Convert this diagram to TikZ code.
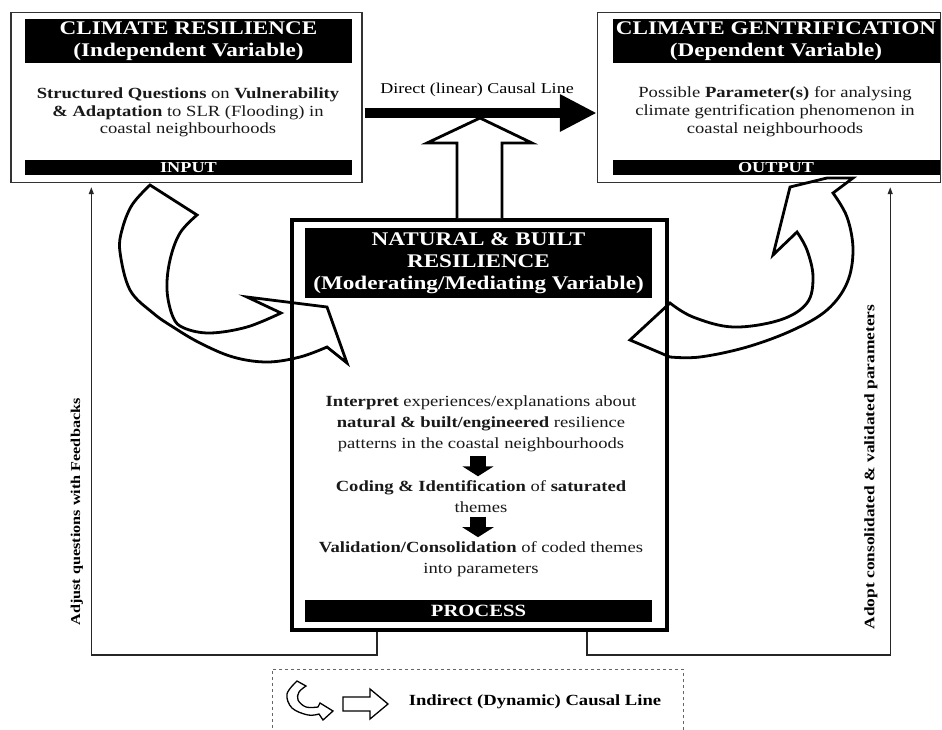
\documentclass[tikz,border=0pt]{standalone}
\usepackage{fontspec}
\setmainfont{Liberation Serif}[FakeStretch=1.2]
\usetikzlibrary{arrows.meta,calc}
\newcommand\titlefnt{\fontsize{19.3}{22}\selectfont\bfseries}
\newcommand\barfnt{\fontsize{15.2}{16}\selectfont\bfseries}
\newcommand\procfnt{\fontsize{17.2}{18}\selectfont\bfseries}
\newcommand\boxbodyfnt{\fontsize{15.5}{17.5}\selectfont}
\newcommand\midbodyfnt{\fontsize{15.5}{21}\selectfont}
\newcommand\lblfnt{\fontsize{15}{17}\selectfont}
\newcommand\rotfnt{\fontsize{13.5}{15}\selectfont\bfseries}
\newcommand\legfnt{\fontsize{15.5}{17}\selectfont\bfseries}
\begin{document}
\begin{tikzpicture}[x=1pt,y=-1pt,
  obox/.style={draw=black!80, line width=1.4pt, fill=white, inner sep=0pt},
  mbox/.style={draw=black, line width=4pt, inner sep=0pt},
  bar/.style={fill=black, text=white, align=center, inner sep=0pt, font=\titlefnt},
  body/.style={align=center, inner sep=0pt, text=black!90},
  hollow/.style={draw=black, line width=2.8pt, line join=miter, fill=white},
  curv/.style={draw=black, line width=2.8pt, line join=miter},
  icon/.style={draw=black, line width=1.3pt, line join=miter},
  fb/.style={draw=black!85, line width=1.2pt, -{Triangle[length=7pt,width=5pt]}},
  darr/.style={draw=black, line width=16pt, -{Triangle[length=10pt,width=31pt]}},
  rlabel/.style={rotate=90, font=\rotfnt, inner sep=0pt},
]
\useasboundingbox[fill=white] (0,0) rectangle (942,729);

% ---------- left box (input)
\node[obox, minimum width=351pt, minimum height=170pt] (inbox) at (186.5,97.5) {};
\node[bar, minimum width=327pt, minimum height=44pt] (intitle) at (188.5,41)
  {CLIMATE RESILIENCE\\(Independent Variable)};
\node[body, font=\boxbodyfnt] (inbody) at (188,112.5)
  {\textbf{Structured Questions} on \textbf{Vulnerability}\\
   \textbf{\& Adaptation} to SLR (Flooding) in\\
   coastal neighbourhoods};
\node[bar, font=\barfnt, minimum width=327pt, minimum height=15pt] (inlab) at (188.5,167.5) {INPUT};

% ---------- right box (output)
\node[obox, minimum width=343pt, minimum height=170pt] (outbox) at (769,97.5) {};
\node[bar, minimum width=327pt, minimum height=44pt] (outtitle) at (776,41)
  {CLIMATE GENTRIFICATION\\(Dependent Variable)};
\node[body, font=\fontsize{15.5}{18}\selectfont] (outbody) at (775,112)
  {Possible \textbf{Parameter(s)} for analysing\\
   climate gentrification phenomenon in\\
   coastal neighbourhoods};
\node[bar, font=\barfnt, minimum width=327pt, minimum height=15pt] (outlab) at (776,167.5) {OUTPUT};

% ---------- middle box (process)
\node[mbox, minimum width=375pt, minimum height=410pt] (mid) at (479.5,425) {};
\node[bar, minimum width=347pt, minimum height=70pt] (midtitle) at (478.5,263)
  {NATURAL \& BUILT\\RESILIENCE\\(Moderating/Mediating Variable)};
\node[body, font=\midbodyfnt] (t1) at (481,424)
  {\textbf{Interpret} experiences/explanations about\\
   \textbf{natural \& built/engineered} resilience\\
   patterns in the coastal neighbourhoods};
\node[body, font=\midbodyfnt] (t2) at (481,496.5)
  {\textbf{Coding \& Identification} of \textbf{saturated}\\themes};
\node[body, font=\midbodyfnt] (t3) at (481,559)
  {\textbf{Validation/Consolidation} of coded themes\\into parameters};
\node[bar, font=\procfnt, minimum width=347pt, minimum height=22pt] (proc) at (478.5,611) {PROCESS};

\draw[darr, shorten <=4pt, shorten >=4pt] ([xshift=-3pt]t1.south) -- ([xshift=-3pt]t1.south |- t2.north);
\draw[darr, shorten <=4pt, shorten >=4pt] ([xshift=-3pt]t2.south) -- ([xshift=-3pt]t2.south |- t3.north);

% ---------- direct causal line
\draw[line width=10pt, -{Triangle[length=37pt,width=35pt]}]
  ([yshift=-15.5pt,xshift=2pt]inbox.east) -- ([yshift=-15.5pt]outbox.west);
\node[font=\lblfnt, inner sep=0pt] (dlabel) at (477,90) {Direct (linear) Causal Line};

% ---------- hollow up arrow
\draw[hollow] ([xshift=-22.5pt]mid.north) -- ++(0,-75) -- ++(-30,0) -- ++(53,-25)
  -- ++(52,25) -- ++(-30,0) -- ++(0,75);

% ---------- curved hollow arrows
\draw[curv] (197,215) -- (150,185) -- plot[smooth,tension=0.6] coordinates
  {(150,185) (132,205) (122,230) (120,252) (130,290) (153,313) (173,327) (200,343) (233,357) (267,362) (300,357) (327,347)}
  -- (347,363) -- (327,307) -- (247,297) -- (281,313) -- plot[smooth,tension=0.6] coordinates
  {(281,313) (247,327) (210,333) (184,328) (173,317) (167,290) (170,260) (180,233) (197,215)} -- cycle;

\draw[curv] (670,303) -- (630,340) -- (670,357) -- plot[smooth,tension=0.6] coordinates
  {(670,357) (700,357) (747,347) (793,330) (827,310) (847,283) (853,250) (847,217) (833,193)}
  -- (853,178) -- (827,178) -- (790,187) -- (773,255) -- (797,232) -- plot[smooth,tension=0.6] coordinates
  {(797,232) (807,250) (813,277) (807,303) (780,320) (733,327) (693,317) (670,303)} -- cycle;

% ---------- feedback connectors
\draw[fb] ([xshift=-102.5pt]mid.south) -- ++(0,23) -| ([xshift=81pt,yshift=-4pt]inbox.south west);
\draw[fb] ([xshift=107.5pt]mid.south) -- ++(0,23) -| ([xshift=-51pt,yshift=-4pt]outbox.south east);
\node[rlabel] (lblL) at (77,512) {Adjust questions with Feedbacks};
\node[rlabel, font=\fontsize{14.5}{16}\selectfont\bfseries] (lblR) at (871,467) {Adopt consolidated \& validated parameters};

% ---------- legend
\node[draw=black!60, dashed, line width=0.6pt, minimum width=411pt, minimum height=70pt, inner sep=0pt] (legend) at (477.5,704) {};
\node[font=\legfnt, inner sep=0pt] (legtxt) at (535,702) {Indirect (Dynamic) Causal Line};
\draw[icon] (343,697) -- (370,697) -- (370,689) -- (388,704) -- (370,719) -- (370,711) -- (343,711) -- cycle;
\draw[icon] (306,686) -- (297,681) -- plot[smooth,tension=0.6] coordinates {(297,681) (287,694) (292,708) (308,715) (319,714)}
  -- (323,720) -- (333,711) -- (320,703) -- (318,707) -- plot[smooth,tension=0.6] coordinates {(318,707) (306,707) (298,700) (299,692) (306,686)} -- cycle;
\end{tikzpicture}
\end{document}
